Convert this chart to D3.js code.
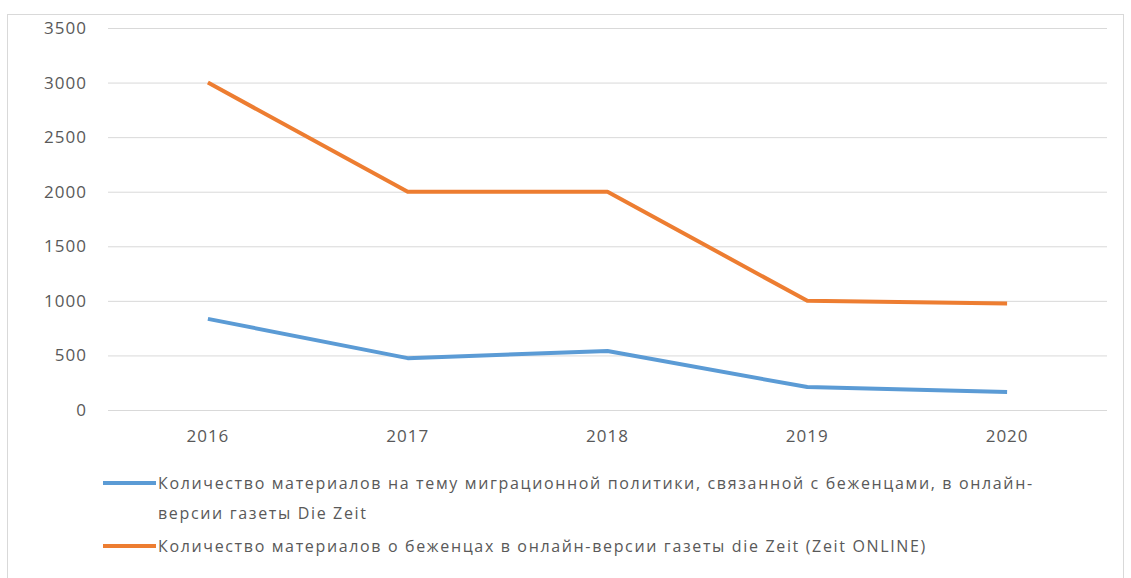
<!DOCTYPE html>
<html>
<head>
<meta charset="utf-8">
<script src="https://cdn.jsdelivr.net/npm/d3@7"></script>
<style>
  body { margin: 0; background: #fff; }
  text { font-family: "Open Sans", "Noto Sans", sans-serif; fill: #595959; letter-spacing: 1px; }
</style>
</head>
<body>
<div id="chart"></div>
<script>
const years = ['2016', '2017', '2018', '2019', '2020'];
const politicsCounts = [835, 475, 540, 210, 165];
const refugeeCounts = [3000, 2000, 2000, 1000, 975];
const yTicks = [0, 500, 1000, 1500, 2000, 2500, 3000, 3500];
const seriesNames = [
  ['Количество материалов на тему миграционной политики, связанной с беженцами, в онлайн-', 'версии газеты Die Zeit'],
  ['Количество материалов о беженцах в онлайн-версии газеты die Zeit (Zeit ONLINE)']
];
const seriesColors = ['#5b9bd5', '#ed7d31'];

const width = 1131;
const height = 578;
const marginTop = 28;
const marginRight = 24;
const marginBottom = 168;
const marginLeft = 108;

const svg = d3.select('#chart')
  .append('svg')
  .attr('width', width)
  .attr('height', height);

// outer frame
svg.append('rect')
  .attr('x', 7.5).attr('y', 14.5)
  .attr('width', 1116).attr('height', 600)
  .attr('fill', 'none')
  .attr('stroke', '#d9d9d9');

const x = d3.scaleBand()
  .domain(years)
  .range([marginLeft, width - marginRight]);

const y = d3.scaleLinear()
  .domain([0, 3500])
  .range([height - marginBottom, marginTop]);

// gridlines + y labels
svg.append('g')
  .attr('transform', 'translate(' + marginLeft + ',0)')
  .call(d3.axisLeft(y).tickValues(yTicks).tickFormat(d3.format('d'))
    .tickSize(-(width - marginLeft - marginRight)).tickPadding(21))
  .call(g => g.select('.domain').remove())
  .call(g => g.selectAll('.tick line').attr('stroke', '#d9d9d9'))
  .call(g => g.selectAll('.tick text').style('font-size', '17px'));

// x labels
svg.append('g')
  .attr('transform', 'translate(0,' + (height - marginBottom) + ')')
  .call(d3.axisBottom(x).tickSize(0).tickPadding(20))
  .call(g => g.select('.domain').remove())
  .call(g => g.selectAll('.tick text').style('font-size', '17px'));

const line = d3.line()
  .x((d, i) => x(years[i]) + x.bandwidth() / 2)
  .y(d => y(d));

[politicsCounts, refugeeCounts].forEach((s, k) => {
  svg.append('path')
    .datum(s)
    .attr('fill', 'none')
    .attr('stroke', seriesColors[k])
    .attr('stroke-width', 4)
    .attr('stroke-linejoin', 'round')
    .attr('d', line);
});

// legend
const legendY = [483, 546];
seriesNames.forEach((lines, k) => {
  const g = svg.append('g').attr('transform', 'translate(103,' + legendY[k] + ')');
  g.append('line')
    .attr('x1', 0).attr('x2', 53)
    .attr('stroke', seriesColors[k])
    .attr('stroke-width', 4);
  g.selectAll('text')
    .data(lines)
    .enter()
    .append('text')
    .attr('x', 55)
    .attr('y', (d, i) => i * 30)
    .attr('dy', '0.35em')
    .style('font-size', '16px')
    .style('letter-spacing', '1.65px')
    .text(d => d);
});
</script>
</body>
</html>
